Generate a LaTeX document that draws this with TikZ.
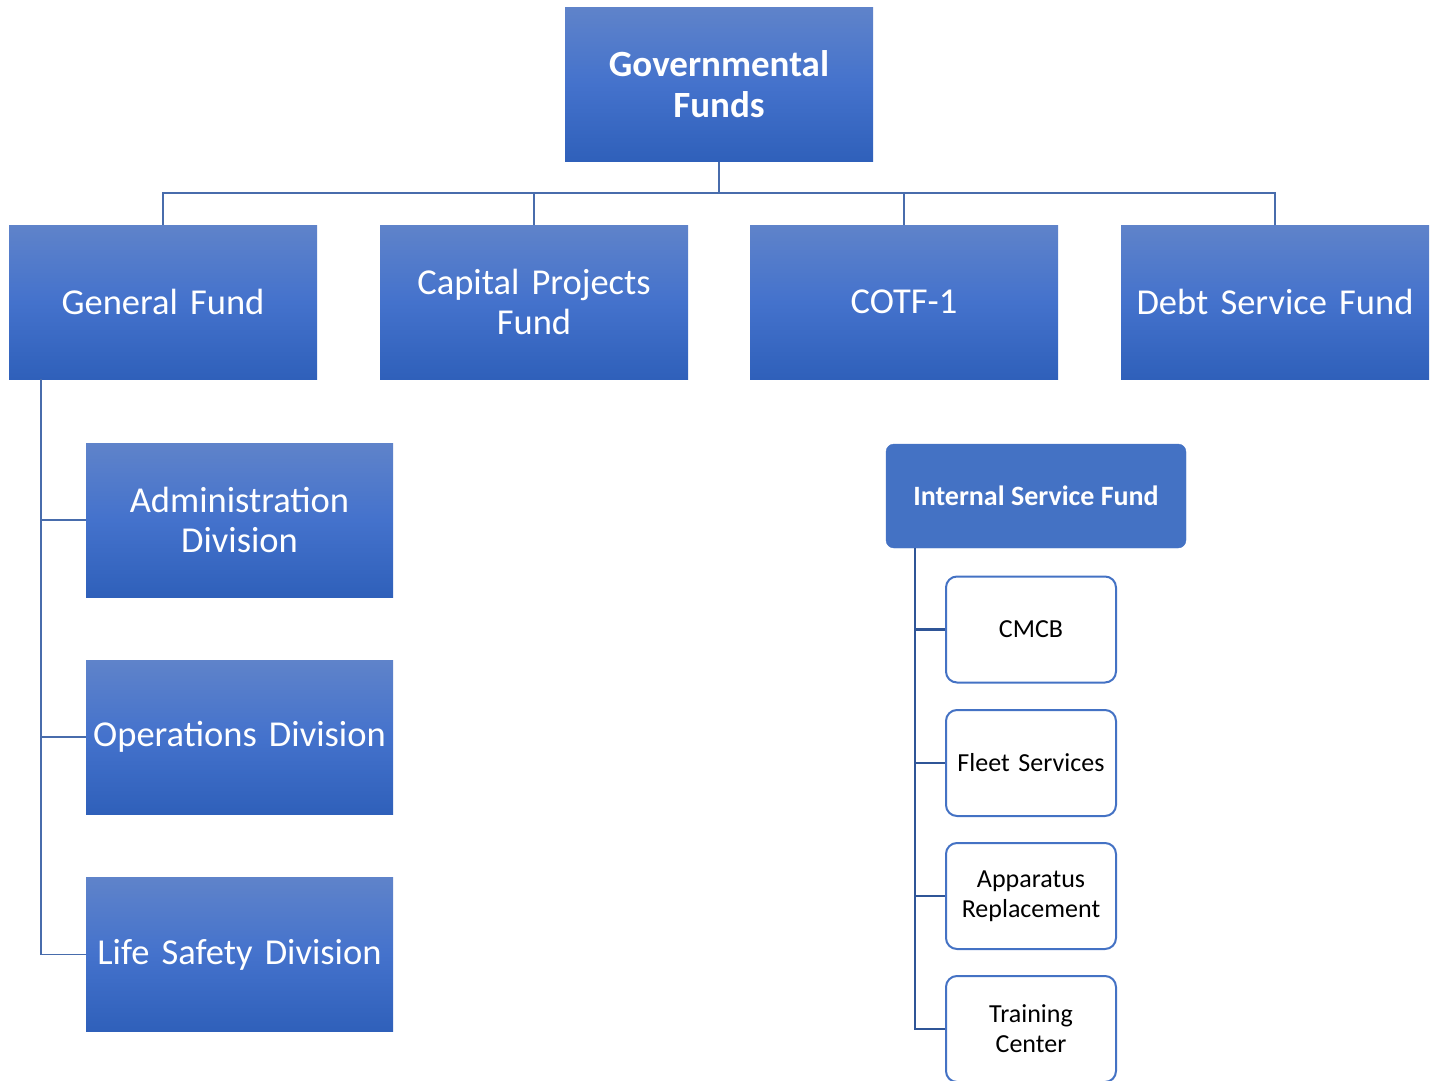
\documentclass[tikz,border=0pt]{standalone}
\usepackage{fontspec}
\setmainfont{Carlito}
\definecolor{gtop}{RGB}{95,131,202}
\definecolor{gmid}{RGB}{68,114,204}
\definecolor{gbot}{RGB}{47,96,186}
\definecolor{accent}{RGB}{68,114,196}
\definecolor{lineA}{RGB}{72,108,172}
\definecolor{lineB}{RGB}{47,85,151}
\begin{document}
\begin{tikzpicture}[x=1pt,y=-1pt,
  gradbox/.style={shade, top color=gtop, bottom color=gbot, middle color=gmid,
    minimum width=308pt, minimum height=154pt, inner sep=0pt, text=white, align=center,
    font=\fontsize{36.5}{40}\selectfont, text width=304pt},
  isf/.style={fill=accent, draw=accent, rounded corners=8pt, minimum width=300pt, minimum height=104pt,
    inner sep=0pt, text=white, font=\fontsize{28}{32}\selectfont\bfseries, align=center},
  child/.style={fill=white, draw=accent, line width=2pt, rounded corners=11pt, minimum width=170pt,
    minimum height=106pt, inner sep=0pt, text=black, align=center, text width=168pt,
    font=\fontsize{26}{30}\selectfont},
  conn/.style={draw=lineA, line width=1.6pt},
  conn2/.style={draw=lineB, line width=2.6pt}]
\useasboundingbox (0,0) rectangle (1436,1081);
\node[gradbox, font=\fontsize{37}{41}\selectfont\bfseries] (gov) at (719,84.5) {Governmental\\Funds};
\node[gradbox] (gen) at (163,302) {General Fund};
\node[gradbox] (cap) at (534,302) {Capital Projects\\Fund};
\node[gradbox] (cotf) at (904,302) {COTF-1};
\node[gradbox] (debt) at (1275,302) {Debt Service Fund};
\node[gradbox, minimum width=307pt] (adm) at (239.5,520) {Administration\\Division};
\node[gradbox, minimum width=307pt] (ops) at (239.5,737) {Operations Division};
\node[gradbox, minimum width=307pt] (life) at (239.5,954.5) {Life Safety Division};
\coordinate (bus) at (719,193);
\draw[conn] (gov.south) -- (bus);
\draw[conn] (gen.north) |- (bus) -| (debt.north);
\draw[conn] (cap.north) -- (cap.north |- bus);
\draw[conn] (cotf.north) -- (cotf.north |- bus);
\coordinate (gtrunk) at (41,379);
\draw[conn] (gtrunk) |- (life.west);
\draw[conn] (gtrunk |- adm.west) -- (adm.west);
\draw[conn] (gtrunk |- ops.west) -- (ops.west);
\node[isf] (isf) at (1036,496) {Internal Service Fund};
\node[child] (cmcb) at (1031,629.5) {CMCB};
\node[child] (fleet) at (1031,763) {Fleet Services};
\node[child] (app) at (1031,896) {Apparatus\\Replacement};
\node[child] (train) at (1031,1029) {Training\\Center};
\coordinate (itrunk) at (915,548);
\draw[conn2] (itrunk) |- (train.west);
\draw[conn2] (itrunk |- cmcb.west) -- (cmcb.west);
\draw[conn2] (itrunk |- fleet.west) -- (fleet.west);
\draw[conn2] (itrunk |- app.west) -- (app.west);
\end{tikzpicture}
\end{document}
